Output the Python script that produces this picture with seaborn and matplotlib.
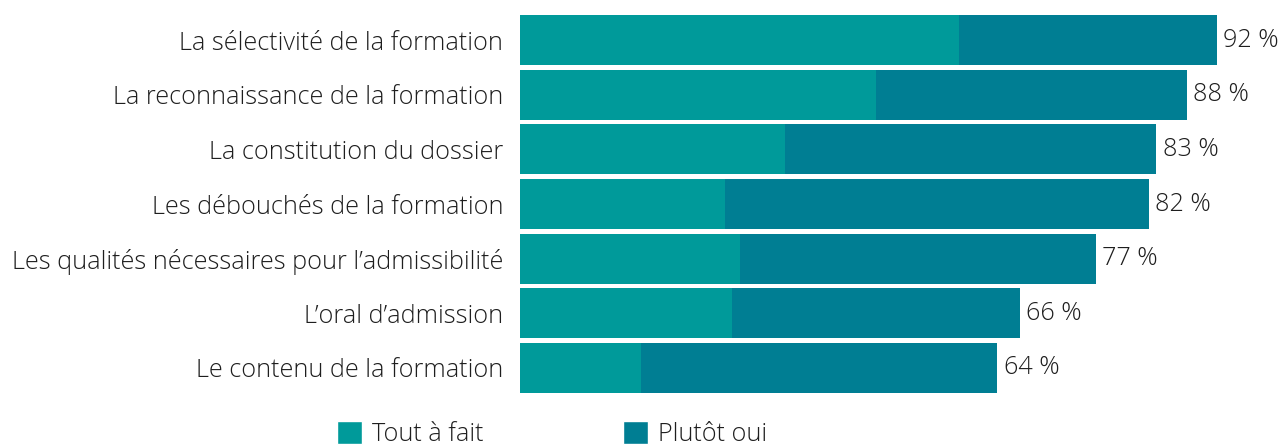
import matplotlib
matplotlib.use("Agg")
import matplotlib.pyplot as plt
from matplotlib.patches import Patch
import seaborn as sns

# Data (percentages)
categories = [
    "La sélectivité de la formation",
    "La reconnaissance de la formation",
    "La constitution du dossier",
    "Les débouchés de la formation",
    "Les qualités nécessaires pour l\u2019admissibilité",
    "L\u2019oral d\u2019admission",
    "Le contenu de la formation",
]
tout_a_fait = [58, 47, 35, 27, 29, 28, 16]
plutot_oui = [34, 41, 49, 56, 47, 38, 47]
total_labels = ["92 %", "88 %", "83 %", "82 %", "77 %", "66 %", "64 %"]

light = "#009a9a"
dark = "#007e93"
txt = "#1e1e1e"

sns.set_style("white")
plt.rcParams["font.family"] = ["Open Sans", "DejaVu Sans"]
plt.rcParams["font.weight"] = "light"

totals = [a + b for a, b in zip(tout_a_fait, plutot_oui)]

fig = plt.figure(figsize=(12.81, 4.48), dpi=100)
ax = fig.add_axes([520 / 1281, 1 - 395.3 / 448, 757.6 / 1281, (395.3 - 12.7) / 448])

# stacked: draw totals (dark) first, then "tout a fait" on top
sns.barplot(x=totals, y=categories, color=dark, width=0.915, saturation=1,
            linewidth=0, ax=ax)
sns.barplot(x=tout_a_fait, y=categories, color=light, width=0.915, saturation=1,
            linewidth=0, ax=ax)

ax.bar_label(ax.containers[0], labels=total_labels, padding=4.5,
             fontsize=18.2, color=txt, fontweight="light")

ax.set_xlim(0, 100)
ax.set_ylim(6.5, -0.5)
ax.set_xlabel("")
ax.set_ylabel("")
ax.set_xticks([])
ax.tick_params(axis="y", length=0, pad=12, labelsize=18.2, labelcolor=txt)
for s in ax.spines.values():
    s.set_visible(False)

handles = [Patch(facecolor=light, label="Tout à fait"),
           Patch(facecolor=dark, label="Plutôt oui")]
fig.legend(handles=handles, loc="upper left", bbox_to_anchor=(337 / 1281, 1 - 421 / 448),
           ncol=2, frameon=False, fontsize=18.2, handlelength=1.0, handleheight=1.0,
           handletextpad=0.4, columnspacing=5.5, borderpad=0, borderaxespad=0,
           labelcolor=txt)

fig.savefig("out.png", dpi=100)
